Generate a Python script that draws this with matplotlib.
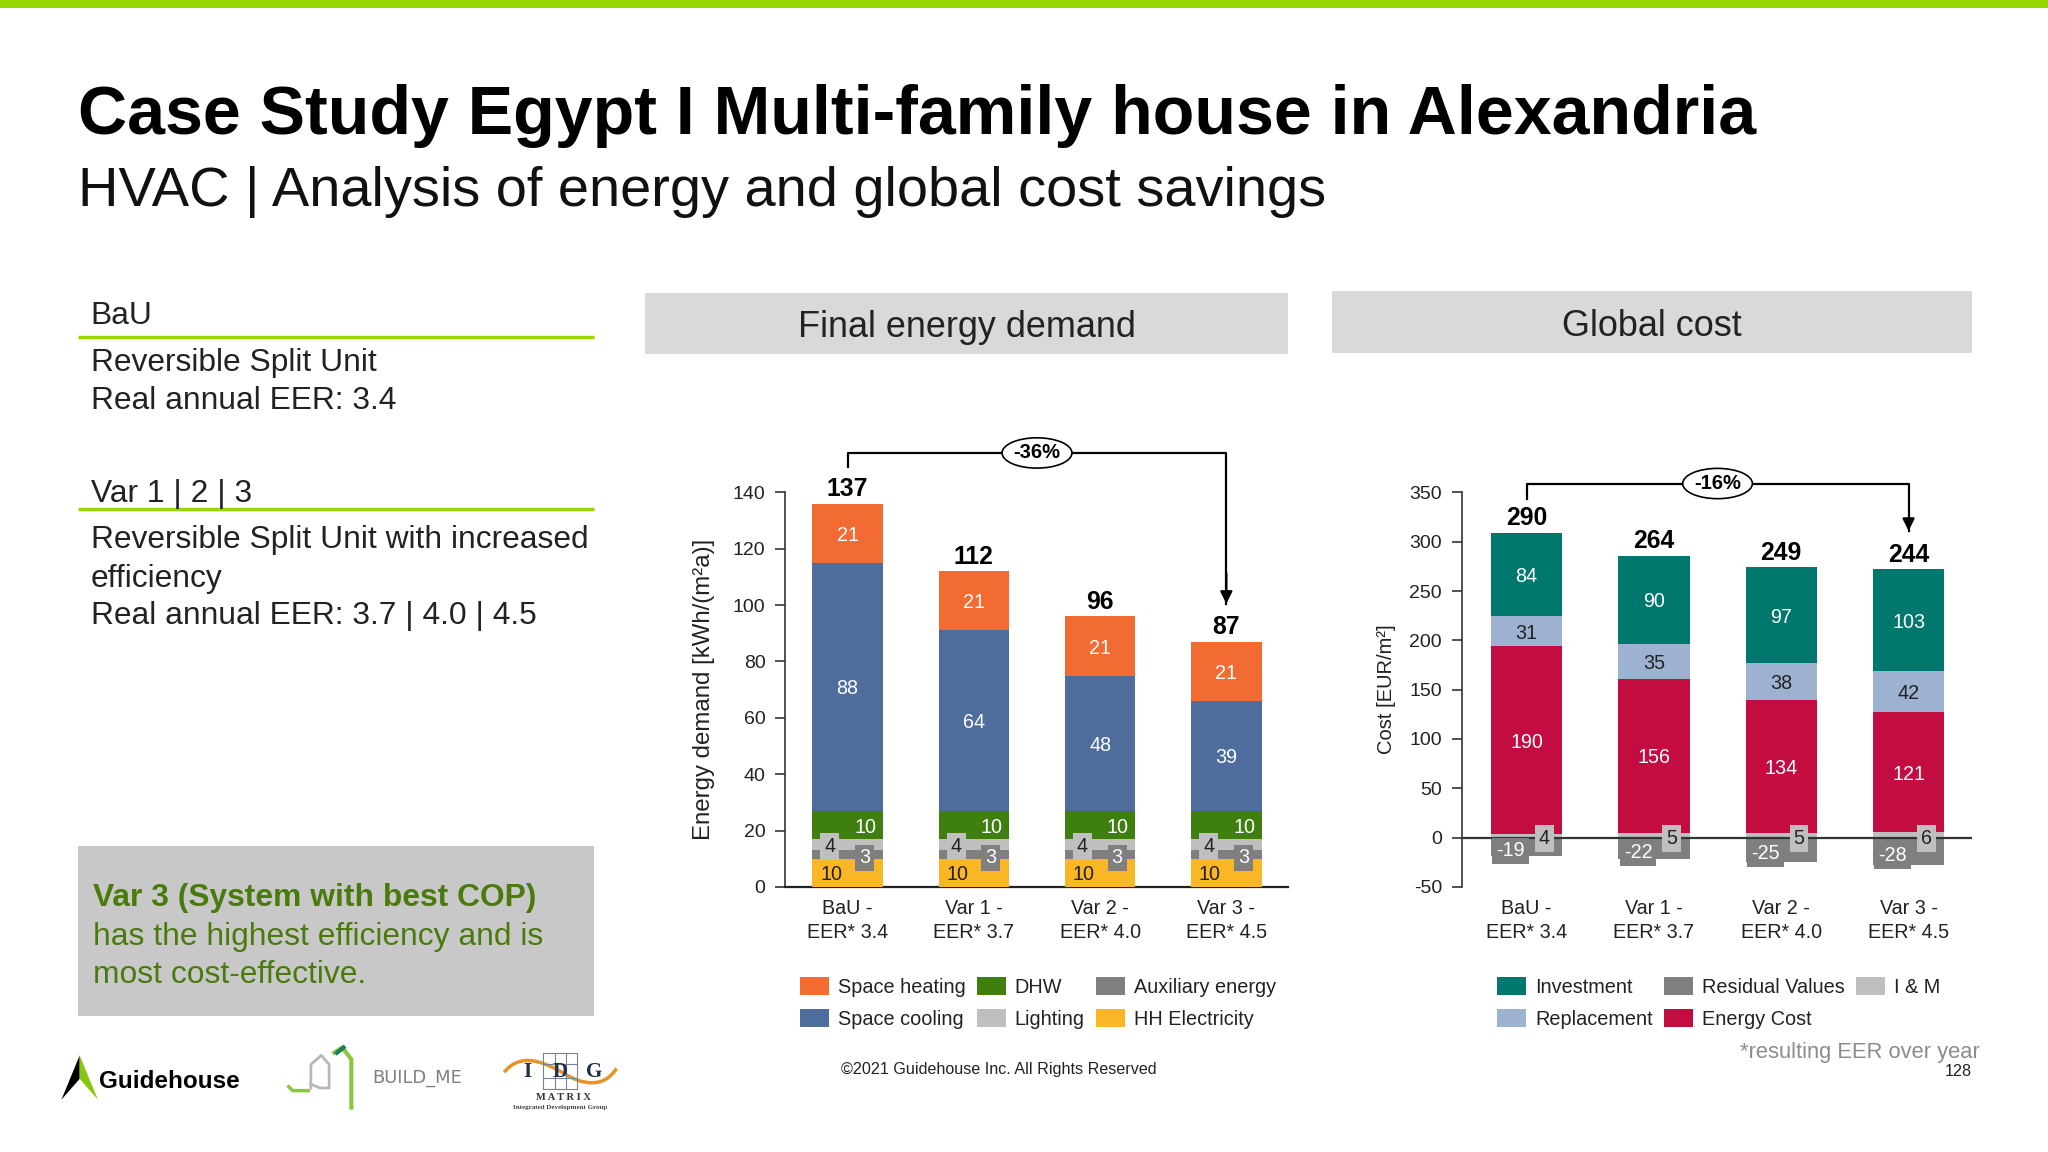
import matplotlib
matplotlib.use("Agg")
import matplotlib.pyplot as plt
from matplotlib.patches import Rectangle, Patch, Polygon, PathPatch
from matplotlib.path import Path
import numpy as np

plt.rcParams['font.family'] = ['Liberation Sans', 'DejaVu Sans']
plt.rcParams['axes.unicode_minus'] = False

# ---------- data ----------
categories = ["BaU -\nEER* 3.4", "Var 1 -\nEER* 3.7", "Var 2 -\nEER* 4.0", "Var 3 -\nEER* 4.5"]
hh_electricity = [10, 10, 10, 10]
auxiliary = [3, 3, 3, 3]
lighting = [4, 4, 4, 4]
dhw = [10, 10, 10, 10]
space_cooling = [88, 64, 48, 39]
space_heating = [21, 21, 21, 21]
energy_totals = [137, 112, 96, 87]

im_cost = [4, 5, 5, 6]
energy_cost = [190, 156, 134, 121]
replacement = [31, 35, 38, 42]
investment = [84, 90, 97, 103]
residual = [-19, -22, -25, -28]
cost_totals = [290, 264, 249, 244]

C_HEAT, C_COOL, C_DHW = '#F26B33', '#4E6C9C', '#3F7F0F'
C_LIGHT, C_AUX, C_HH = '#BFBFBF', '#7F7F7F', '#F9B625'
C_INV, C_REPL, C_EN = '#00786E', '#9DB1D1', '#C30D40'
GREEN = '#97D700'
TXT = '#222222'

fig = plt.figure(figsize=(20.48, 11.52), dpi=100, facecolor='white')

# decoration layer, in reference display coordinates
bg = fig.add_axes([0, 0, 1, 1], zorder=0)
bg.set_xlim(0, 1568); bg.set_ylim(882, 0); bg.axis('off')

def T(x, y, s, size, **kw):
    kw.setdefault('color', 'black'); kw.setdefault('va', 'center')
    return bg.text(x, y, s, fontsize=size, **kw)

bg.add_patch(Rectangle((0, 0), 1568, 6, fc=GREEN, ec='none'))
T(60, 89, "Case Study Egypt I Multi-family house in Alexandria", 49.1, weight='bold')
T(60, 147, "HVAC | Analysis of energy and global cost savings", 40.3, color='#111111')

bg.add_patch(Rectangle((494, 224), 492, 47, fc='#D9D9D9', ec='none'))
bg.add_patch(Rectangle((1020, 223), 490, 47, fc='#D9D9D9', ec='none'))
T(740, 250.5, "Final energy demand", 25.9, ha='center', color=TXT)
T(1265, 250, "Global cost", 25.9, ha='center', color=TXT)

LS = 22.9
T(69.5, 242, "BaU", LS, color=TXT)
bg.plot([60, 455], [258, 258], color=GREEN, lw=2.5, solid_capstyle='butt')
T(69.5, 278, "Reversible Split Unit", LS, color=TXT)
T(69.5, 307, "Real annual EER: 3.4", LS, color=TXT)
T(69.5, 378, "Var 1 | 2 | 3", LS, color=TXT)
bg.plot([60, 455], [390, 390], color=GREEN, lw=2.5, solid_capstyle='butt')
T(69.5, 413.5, "Reversible Split Unit with increased", LS, color=TXT)
T(69.5, 443, "efficiency", LS, color=TXT)
T(69.5, 471.5, "Real annual EER: 3.7 | 4.0 | 4.5", LS, color=TXT)

bg.add_patch(Rectangle((60, 648), 395, 130, fc='#C8C8C8', ec='none'))
T(71, 687.5, "Var 3 (System with best COP)", LS, color='#4B7A0C', weight='bold')
T(71, 717.5, "has the highest efficiency and is", LS, color='#4B7A0C')
T(71, 746.5, "most cost-effective.", LS, color='#4B7A0C')

T(644, 819, "©2021 Guidehouse Inc. All Rights Reserved", 11.6, color=TXT)
T(1516, 806, "*resulting EER over year", 15.8, ha='right', color='#8C8C8C')
T(1510, 820, "128", 11.6, ha='right', color=TXT)

# logos
bg.add_patch(Polygon([(61, 808), (47, 842), (61, 826)], fc='black', ec='none'))
bg.add_patch(Polygon([(61, 808), (75, 842), (61, 826)], fc='#86C80F', ec='none'))
T(76, 828, "Guidehouse", 17.5, weight='bold')
bg.plot([238, 238, 246, 252, 252, 245, 238], [833, 815, 808, 815, 833, 833, 830], color='#B8B8B8', lw=2)
bg.plot([221, 224, 236], [832, 835, 835], color='#8CC63F', lw=2.5)
bg.plot([256, 262, 269, 269], [806, 802, 811, 848], color='#8CC63F', lw=3)
bg.plot([258, 263], [806, 802], color='#1B7F5C', lw=3)
T(285, 825, "BUILD_ME", 12.9, color='#808080', family='DejaVu Sans')
bg.add_patch(PathPatch(Path([(386, 821), (398, 806), (415, 812), (432, 822), (445, 830), (462, 834), (472, 818)],
                            [Path.MOVETO, Path.CURVE4, Path.CURVE4, Path.CURVE4, Path.CURVE4, Path.CURVE4, Path.CURVE4]),
                       fc='none', ec='#E8922A', lw=2.5))
for gx in (416, 425, 433, 442):
    bg.plot([gx, gx], [806, 834], color='#77838F', lw=0.8)
for gy in (806, 815, 825, 834):
    bg.plot([416, 442], [gy, gy], color='#77838F', lw=0.8)
T(404, 821, "I", 15, family='Liberation Serif', weight='bold', color='#1C3048', ha='center')
T(429, 821, "D", 15, family='Liberation Serif', weight='bold', color='#1C3048', ha='center')
T(455, 821, "G", 15, family='Liberation Serif', weight='bold', color='#1C3048', ha='center')
T(431, 840, "M A T R I X", 7.5, family='Liberation Serif', weight='bold', color='#333333', ha='center')
T(429, 848, "Integrated Development Group", 5, family='Liberation Serif', weight='bold', color='#444444', ha='center')


def make_axes(l, r, t, b):
    ax = fig.add_axes([l / 1568, 1 - b / 882, (r - l) / 1568, (b - t) / 882], zorder=2)
    ax.patch.set_alpha(0)
    for s in ('top', 'right'):
        ax.spines[s].set_visible(False)
    ax.spines['left'].set_color('#333333')
    ax.spines['bottom'].set_color('#222222')
    ax.spines['left'].set_linewidth(1.2)
    ax.spines['bottom'].set_linewidth(1.6)
    ax.tick_params(axis='y', length=7, width=1.2, color='#333333', labelsize=14, labelcolor=TXT, pad=7)
    ax.tick_params(axis='x', length=0, labelsize=14.2, labelcolor=TXT, pad=9)
    ax.set_xticks(range(4))
    ax.set_xticklabels(categories, linespacing=1.3)
    return ax


def box(ax, x, y, v, fc, color='white', off=0):
    ax.annotate(str(v), (x + off, y), xytext=(0, -1.5), textcoords='offset points',
                ha='center', va='center', fontsize=14.2, color=color, zorder=6,
                bbox=dict(boxstyle='square,pad=0.2', fc=fc, ec='none') if fc else None)


def bracket(ax, y_top, y_start, y_end, txt):
    ax.plot([0, 0, 3, 3], [y_start, y_top, y_top, y_end], color='black',
            lw=1.6, clip_on=False, zorder=5)
    ax.annotate('', xy=(3, y_end), xytext=(3, y_end + (y_top - y_end) * 0.2),
                arrowprops=dict(arrowstyle='-|>', color='black', lw=1.6, mutation_scale=18, shrinkA=0, shrinkB=0),
                annotation_clip=False, zorder=5)
    ax.text(1.5, y_top, txt, ha='center', va='center', fontsize=14.5, weight='bold', color='black', zorder=6,
            bbox=dict(boxstyle='ellipse,pad=0.06', fc='white', ec='black', lw=1.2), clip_on=False)


LEG = dict(ncol=3, frameon=False, fontsize=14.3, labelcolor=TXT, handlelength=1.45, handleheight=1.0,
           handletextpad=0.45, columnspacing=0.58, labelspacing=0.62, borderpad=0, borderaxespad=0,
           loc='upper left', bbox_transform=fig.transFigure)

W = 0.56
x = np.arange(4)
# ---------- energy ----------
ax1 = make_axes(601, 986, 377, 679)
ax1.set_xlim(-0.496, 3.487); ax1.set_ylim(0, 140)
ax1.set_yticks(range(0, 141, 20))
ax1.set_ylabel("Energy demand [kWh/(m²a)]", fontsize=17.3, color=TXT, labelpad=12.8)
bottom = np.zeros(4)
for vals, c in [(hh_electricity, C_HH), (auxiliary, C_AUX), (lighting, C_LIGHT), (dhw, C_DHW),
                (space_cooling, C_COOL), (space_heating, C_HEAT)]:
    ax1.bar(x, vals, W, bottom=bottom, color=c, zorder=3)
    bottom = bottom + np.array(vals)
for i in range(4):
    base = hh_electricity[i]
    box(ax1, i, base / 2, hh_electricity[i], None, color=TXT, off=-0.13)
    box(ax1, i, base + auxiliary[i] / 2 - 0.5, auxiliary[i], C_AUX, off=0.135)
    base2 = base + auxiliary[i]
    box(ax1, i, base2 + lighting[i] / 2, lighting[i], C_LIGHT, color=TXT, off=-0.14)
    base3 = base2 + lighting[i]
    box(ax1, i, base3 + dhw[i] / 2 - 0.3, dhw[i], None, off=0.14)
    base4 = base3 + dhw[i]
    box(ax1, i, base4 + space_cooling[i] / 2, space_cooling[i], None)
    box(ax1, i, base4 + space_cooling[i] + space_heating[i] / 2, space_heating[i], None)
    ax1.annotate(str(energy_totals[i]), (i, bottom[i]), xytext=(0, 10.5), textcoords='offset points',
                 ha='center', va='center', fontsize=17.8, weight='bold', color='black', annotation_clip=False)
bracket(ax1, 154, 149, 100.5, "-36%")
ax1.legend(handles=[Patch(fc=C_HEAT, label="Space heating"), Patch(fc=C_COOL, label="Space cooling"),
                    Patch(fc=C_DHW, label="DHW"), Patch(fc=C_LIGHT, label="Lighting"),
                    Patch(fc=C_AUX, label="Auxiliary energy"), Patch(fc=C_HH, label="HH Electricity")],
           bbox_to_anchor=(612.5 / 1568, 1 - 748 / 882), **LEG)

# ---------- cost ----------
ax2 = make_axes(1119, 1510, 377, 679)
ax2.set_xlim(-0.51, 3.50); ax2.set_ylim(-50, 350)
ax2.set_yticks(range(-50, 351, 50))
ax2.spines['bottom'].set_visible(False)
ax2.axhline(0, color='#333333', lw=1.6, zorder=5)
ax2.set_ylabel("Cost [EUR/m²]", fontsize=14.5, color=TXT, labelpad=10)
ax2.bar(x, residual, W, color=C_AUX, zorder=3)
bottom = np.zeros(4)
for vals, c in [(im_cost, C_LIGHT), (energy_cost, C_EN), (replacement, C_REPL), (investment, C_INV)]:
    ax2.bar(x, vals, W, bottom=bottom, color=c, zorder=3)
    bottom = bottom + np.array(vals)
for i in range(4):
    box(ax2, i, 1, im_cost[i], C_LIGHT, color=TXT, off=0.14)
    box(ax2, i, residual[i] / 2 - 2, residual[i], C_AUX, off=-0.125)
    b1 = im_cost[i]
    box(ax2, i, b1 + energy_cost[i] / 2, energy_cost[i], None)
    b2 = b1 + energy_cost[i]
    box(ax2, i, b2 + replacement[i] / 2, replacement[i], None, color=TXT)
    b3 = b2 + replacement[i]
    box(ax2, i, b3 + investment[i] / 2, investment[i], None)
    ax2.annotate(str(cost_totals[i]), (i, bottom[i]), xytext=(0, 10.5), textcoords='offset points',
                 ha='center', va='center', fontsize=17.8, weight='bold', color='black', annotation_clip=False)
bracket(ax2, 359, 343, 311, "-16%")
ax2.legend(handles=[Patch(fc=C_INV, label="Investment"), Patch(fc=C_REPL, label="Replacement"),
                    Patch(fc=C_AUX, label="Residual Values"), Patch(fc=C_EN, label="Energy Cost"),
                    Patch(fc=C_LIGHT, label="I & M")],
           bbox_to_anchor=(1146.5 / 1568, 1 - 748 / 882), **LEG)

fig.savefig("out.png", dpi=100)
